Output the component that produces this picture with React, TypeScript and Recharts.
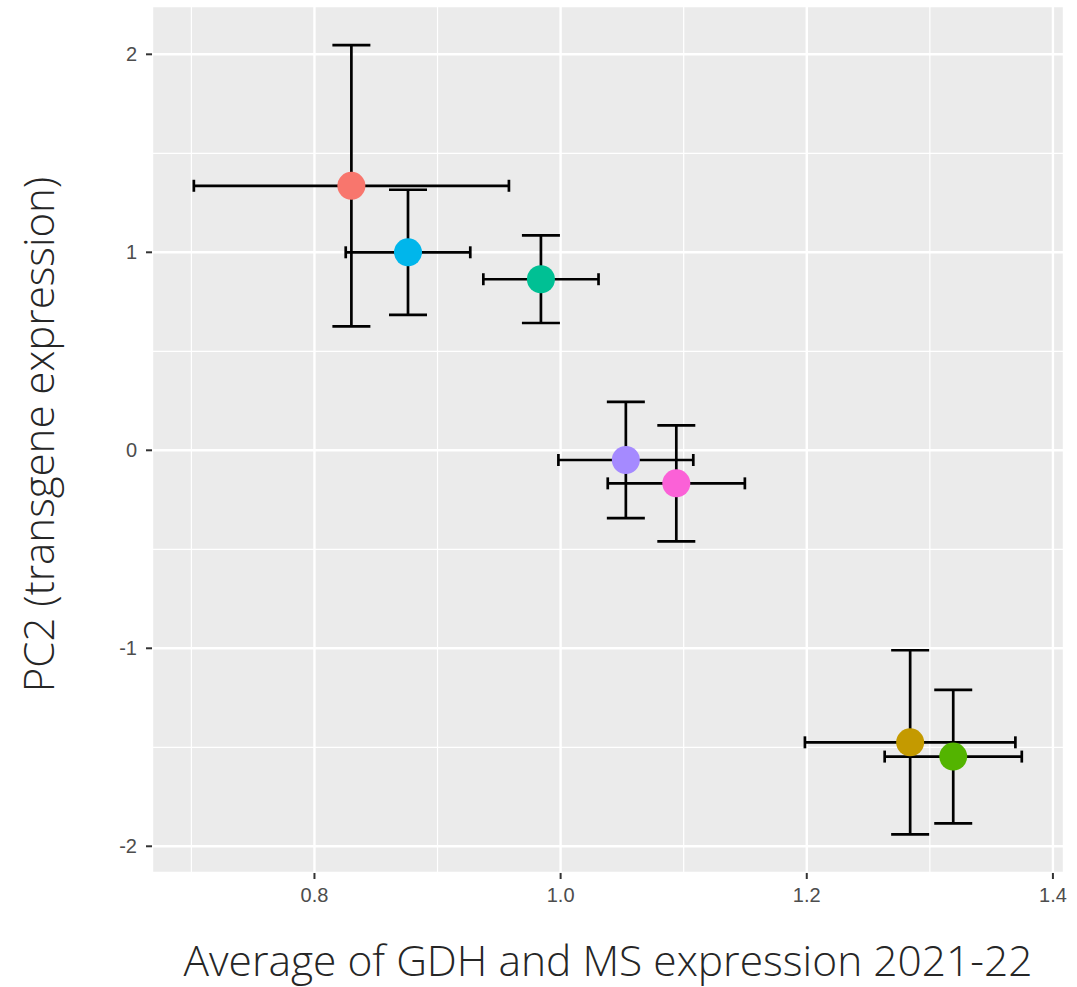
import { CartesianGrid, ErrorBar, Label, Scatter, ScatterChart, XAxis, YAxis } from "recharts"

// one entry per group, in the same order everywhere
const xValues = [0.830, 0.876, 0.984, 1.053, 1.094, 1.284, 1.319]
const yValues = [1.336, 1.0, 0.864, -0.049, -0.167, -1.475, -1.547]
const xErrors = [0.128, 0.0506, 0.0468, 0.0548, 0.0557, 0.0855, 0.0557]
const yErrors = [0.71, 0.316, 0.221, 0.294, 0.293, 0.465, 0.337]
const colors = ["#F8766D", "#00B6EB", "#00C094", "#A58AFF", "#FB61D7", "#C49A00", "#53B400"]

const xTicks = [0.8, 1.0, 1.2, 1.4]
const yTicks = [-2, -1, 0, 1, 2]
const xMinor = [0.7, 0.9, 1.1, 1.3]
const yMinor = [-1.5, -0.5, 0.5, 1.5]

const xTitle = "Average of GDH and MS expression 2021-22"
const yTitle = "PC2 (transgene expression)"

const data = xValues.map((x, i) => ({
  x,
  y: yValues[i],
  ex: xErrors[i],
  ey: yErrors[i],
  color: colors[i],
}))

const scaleOf = (axis: any) => {
  const s = axis?.scale
  if (!s) return (v: number) => v
  return typeof s === "function" ? (v: number) => s(v) : (v: number) => s.map(v)
}

const minorVertical = (props: any) => xMinor.map(scaleOf(props.xAxis))
const minorHorizontal = (props: any) => yMinor.map(scaleOf(props.yAxis))

const Dot = (props: any) => {
  const { cx, cy, payload } = props
  if (cx == null || cy == null) return <g />
  return <circle cx={cx} cy={cy} r={14} fill={payload.color} />
}

const tickStyle = { fill: "#4D4D4D", fontSize: 20, fontFamily: "'Liberation Sans', Arial, sans-serif" }
const titleFont = "'Open Sans', sans-serif"

export default function App() {
  return (
    <div style={{ position: "absolute", left: 0, top: 0, width: 1077, height: 987, background: "#fff" }}>
      <ScatterChart width={1077} height={987} margin={{ top: 6, right: 13, left: 0, bottom: 0 }}>
        <CartesianGrid
          fill="#EBEBEB"
          stroke="#FFFFFF"
          strokeWidth={1.2}
          verticalCoordinatesGenerator={minorVertical}
          horizontalCoordinatesGenerator={minorHorizontal}
        />
        <CartesianGrid stroke="#FFFFFF" strokeWidth={2.4} />
        <XAxis
          type="number"
          dataKey="x"
          domain={[0.668, 1.409]}
          allowDataOverflow
          ticks={xTicks}
          tickFormatter={(v: number) => v.toFixed(1)}
          height={114}
          axisLine={false}
          tickSize={6}
          tickMargin={9}
          tickLine={{ stroke: "#333333", strokeWidth: 2 }}
          tick={tickStyle}
        >
          <Label
            content={(p: any) => {
              const vb = p.viewBox
              return (
                <text
                  x={vb.x + vb.width / 2}
                  y={vb.y + 103}
                  textAnchor="middle"
                  fontFamily={titleFont}
                  fontWeight={300}
                  fontSize={42.5}
                  fill="#262626"
                >
                  {xTitle}
                </text>
              )
            }}
          />
        </XAxis>
        <YAxis
          type="number"
          dataKey="y"
          domain={[-2.135, 2.244]}
          allowDataOverflow
          ticks={yTicks}
          width={152}
          axisLine={false}
          tickSize={6}
          tickMargin={9}
          tickLine={{ stroke: "#333333", strokeWidth: 2 }}
          tick={tickStyle}
        >
          <Label
            content={(p: any) => {
              const vb = p.viewBox
              const cy = vb.y + vb.height / 2 - 5
              return (
                <text
                  x={54}
                  y={cy}
                  transform={`rotate(-90, 54, ${cy})`}
                  textAnchor="middle"
                  fontFamily={titleFont}
                  fontWeight={300}
                  fontSize={42}
                  fill="#262626"
                >
                  {yTitle}
                </text>
              )
            }}
          />
        </YAxis>
        <Scatter data={data} shape={Dot} isAnimationActive={false} />
        <Scatter data={data} shape={() => <g />} isAnimationActive={false}>
          <ErrorBar dataKey="ey" direction="y" width={19} stroke="#000000" strokeWidth={2.7} isAnimationActive={false} />
          <ErrorBar dataKey="ex" direction="x" width={6} stroke="#000000" strokeWidth={2.7} isAnimationActive={false} />
        </Scatter>
      </ScatterChart>
    </div>
  )
}
